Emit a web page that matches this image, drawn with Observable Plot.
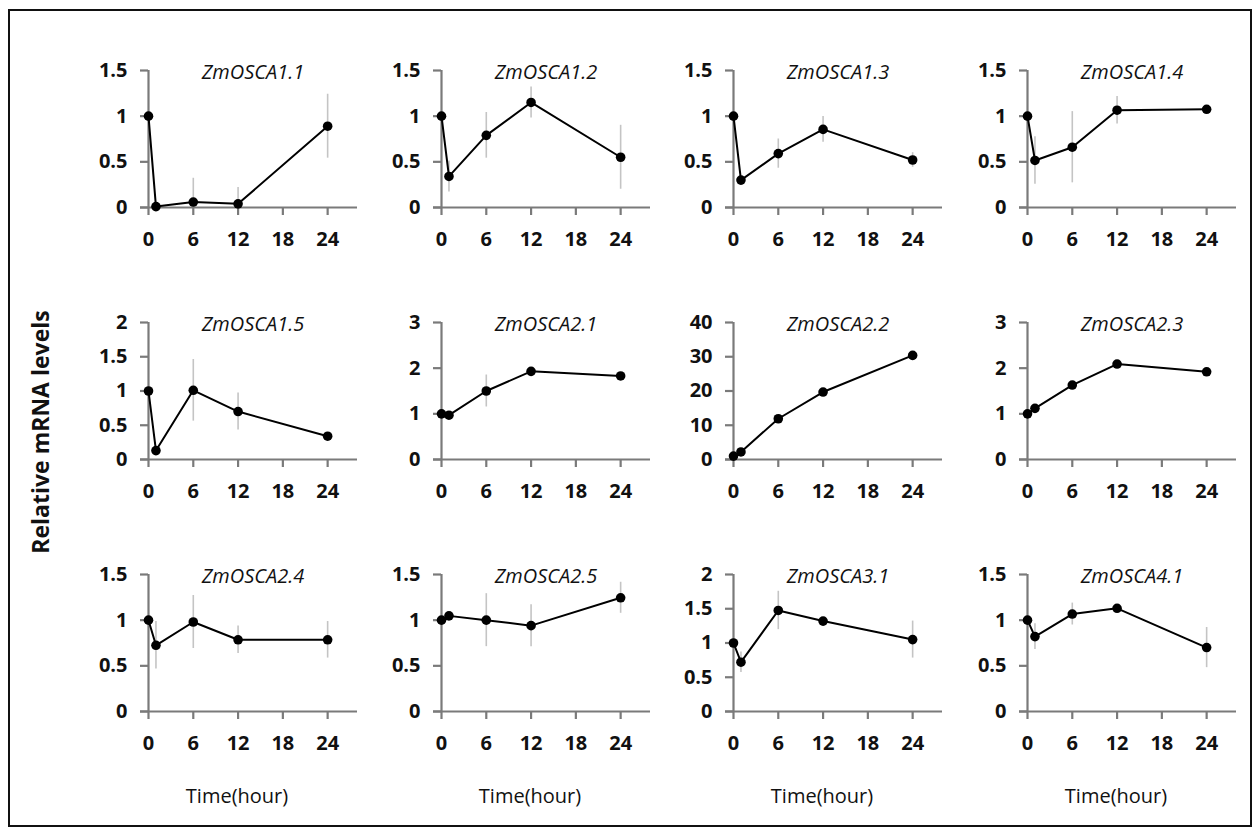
<!DOCTYPE html>
<html>
<head>
<meta charset="utf-8">
<script src="https://cdn.jsdelivr.net/npm/d3@7"></script>
<script src="https://cdn.jsdelivr.net/npm/@observablehq/plot@0.6"></script>
<style>
  html, body { margin: 0; padding: 0; background: #fff; }
  #fig { position: relative; width: 1259px; height: 834px; overflow: hidden; font-family: "Open Sans", sans-serif; }
  #border { position: absolute; left: 8px; top: 9px; width: 1240px; height: 814px; border: 2px solid #111; }
  .panel { position: absolute; }
  .xlabel { position: absolute; width: 200px; text-align: center; font-size: 20px; line-height: 24px; color: #111; }
  #ylabel { position: absolute; left: 40px; top: 432px; transform: translate(-50%, -50%) rotate(-90deg); white-space: nowrap; font-size: 23px; font-weight: bold; color: #111; }
</style>
</head>
<body>
<div id="fig">
  <div id="border"></div>
  <div id="ylabel">Relative mRNA levels</div>
</div>
<script>
// ---- data ----
const times = [0, 1, 6, 12, 24];
const xTicks = [0, 6, 12, 18, 24];
const genes = ["ZmOSCA1.1", "ZmOSCA1.2", "ZmOSCA1.3", "ZmOSCA1.4",
               "ZmOSCA1.5", "ZmOSCA2.1", "ZmOSCA2.2", "ZmOSCA2.3",
               "ZmOSCA2.4", "ZmOSCA2.5", "ZmOSCA3.1", "ZmOSCA4.1"];
const means = [
  [1, 0.01, 0.06, 0.04, 0.89],
  [1, 0.34, 0.79, 1.15, 0.55],
  [1, 0.30, 0.59, 0.855, 0.52],
  [1, 0.515, 0.66, 1.065, 1.075],
  [1, 0.13, 1.01, 0.70, 0.34],
  [1, 0.97, 1.50, 1.93, 1.83],
  [1, 2.2, 11.9, 19.7, 30.4],
  [1, 1.12, 1.63, 2.09, 1.92],
  [1, 0.725, 0.98, 0.785, 0.785],
  [1, 1.047, 1.00, 0.94, 1.245],
  [1, 0.72, 1.475, 1.32, 1.05],
  [1, 0.82, 1.067, 1.13, 0.70]
];
const errors = [
  [0, 0, 0.26, 0.18, 0.35],
  [0, 0.17, 0.25, 0.17, 0.35],
  [0, 0.02, 0.16, 0.14, 0.08],
  [0, 0.26, 0.39, 0.15, 0.02],
  [0, 0.02, 0.45, 0.27, 0.03],
  [0, 0.03, 0.35, 0.05, 0.05],
  [0, 0.3, 0.5, 0.5, 0.5],
  [0, 0.03, 0.05, 0.05, 0.05],
  [0, 0.26, 0.29, 0.15, 0.20],
  [0, 0.03, 0.29, 0.23, 0.17],
  [0, 0.15, 0.28, 0.03, 0.27],
  [0, 0.14, 0.12, 0.03, 0.22]
];
const yMax = [1.5, 1.5, 1.5, 1.5, 2, 3, 40, 3, 1.5, 1.5, 2, 1.5];
const yTicks = [
  [0, 0.5, 1, 1.5], [0, 0.5, 1, 1.5], [0, 0.5, 1, 1.5], [0, 0.5, 1, 1.5],
  [0, 0.5, 1, 1.5, 2], [0, 1, 2, 3], [0, 10, 20, 30, 40], [0, 1, 2, 3],
  [0, 0.5, 1, 1.5], [0, 0.5, 1, 1.5], [0, 0.5, 1, 1.5, 2], [0, 0.5, 1, 1.5]
];
const xLabel = "Time(hour)";

// ---- layout ----
const colLeft = [88, 381, 673, 967];
const rowTop = [30, 282, 534];
const axisGray = "#7a7a7a";
const errGray = "#c4c4c4";
const fig = document.getElementById("fig");

genes.forEach((gene, i) => {
  const row = Math.floor(i / 4), col = i % 4;
  const data = times.map((t, j) => ({
    t, v: means[i][j], lo: means[i][j] - errors[i][j], hi: means[i][j] + errors[i][j], e: errors[i][j]
  }));
  const chart = Plot.plot({
    width: 293, height: 253,
    marginLeft: 60, marginRight: 24, marginTop: 40, marginBottom: 76,
    x: {domain: [0, 28]},
    y: {domain: [0, yMax[i]], clamp: true},
    style: {fontFamily: "'Open Sans', sans-serif", fontSize: "20px", fontWeight: "bold", color: "#111", background: "transparent", overflow: "visible"},
    marks: [
      Plot.ruleX(data.filter(d => d.e > 0), {x: "t", y1: "lo", y2: "hi", stroke: errGray, strokeWidth: 1.6}),
      Plot.ruleX([0], {stroke: axisGray, strokeWidth: 2.2}),
      Plot.ruleY([0], {stroke: axisGray, strokeWidth: 2.2, insetLeft: -8}),
      Plot.axisY({ticks: yTicks[i], tickFormat: d => String(d), tickSize: 8, tickPadding: 13, stroke: axisGray, strokeWidth: 2.2, fill: "#111", fontSize: 20, label: null}),
      Plot.axisX({ticks: xTicks, tickFormat: d => String(d), tickSize: 8, tickPadding: 16, stroke: axisGray, strokeWidth: 2.2, fill: "#111", fontSize: 20, label: null}),
      Plot.line(data, {x: "t", y: "v", stroke: "#000", strokeWidth: 2}),
      Plot.dot(data, {x: "t", y: "v", r: 4.8, fill: "#000", stroke: "none"}),
      Plot.text([gene], {frameAnchor: "top", text: d => d, lineAnchor: "middle", dy: 2, fontStyle: "italic", fontWeight: "normal", fontSize: 20, fill: "#111"})
    ]
  });
  chart.classList.add("panel");
  chart.style.left = colLeft[col] + "px";
  chart.style.top = rowTop[row] + "px";
  chart.style.position = "absolute";
  fig.appendChild(chart);
  if (row === 2) {
    const lab = document.createElement("div");
    lab.className = "xlabel";
    lab.textContent = xLabel;
    lab.style.left = (colLeft[col] + 60 + 89 - 100) + "px";
    lab.style.top = "784px";
    fig.appendChild(lab);
  }
});
</script>
</body>
</html>
